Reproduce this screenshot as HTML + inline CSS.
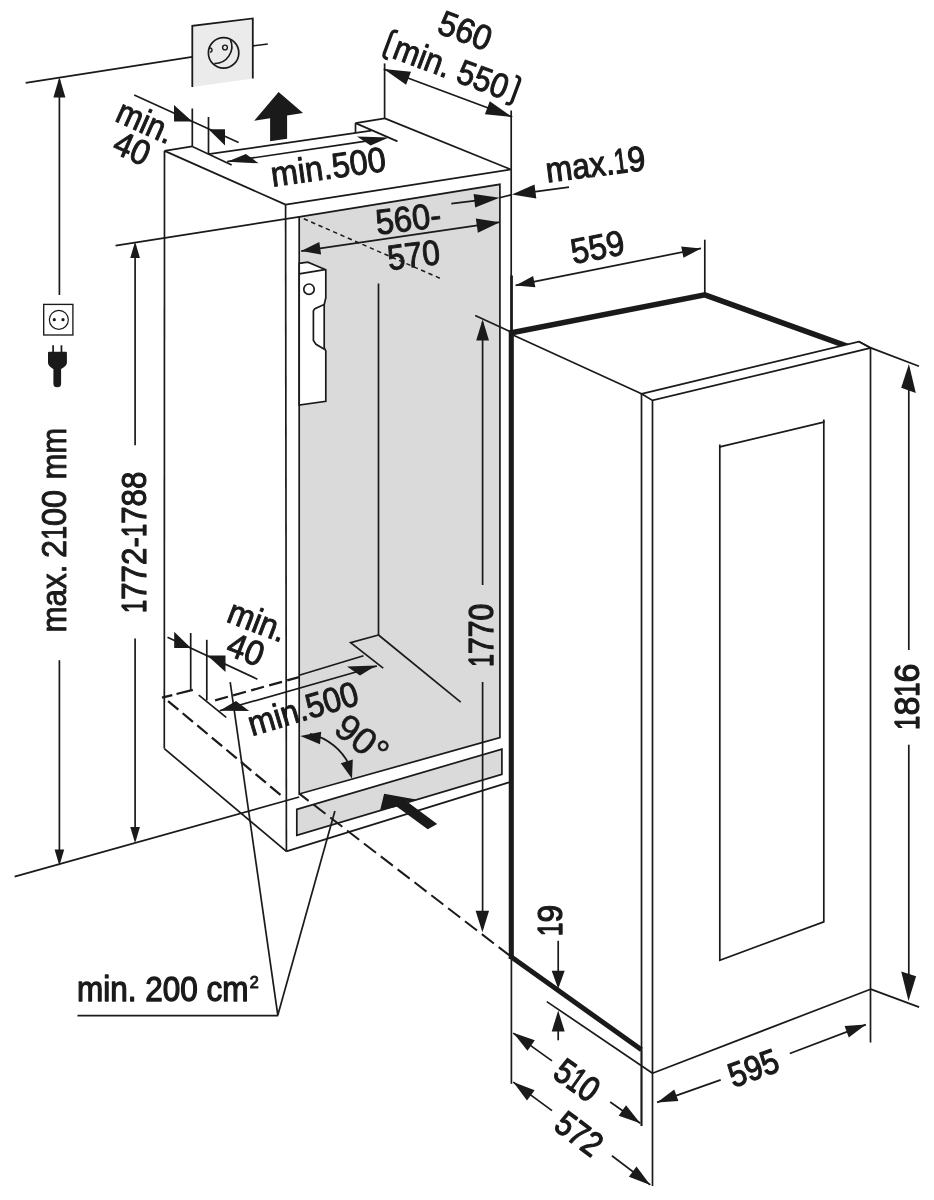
<!DOCTYPE html>
<html><head><meta charset="utf-8"><title>Installation dimensions</title>
<style>
html,body{margin:0;padding:0;background:#fff;}
body{width:934px;height:1200px;overflow:hidden;font-family:"Liberation Sans",sans-serif;}
svg{display:block;will-change:transform;opacity:0.999;}
svg text{font-family:"Liberation Sans",sans-serif;}
</style></head>
<body>
<svg width="934" height="1200" viewBox="0 0 934 1200" stroke="#1a1a1a" fill="none" stroke-linecap="butt">
<rect x="0" y="0" width="934" height="1200" fill="#ffffff" stroke="none"/>
<polygon points="299.2,216.8 499.9,184.3 499.9,737.6 299.2,794.0" fill="#dadada" stroke-width="1.7" />
<polygon points="296.8,809.4 501.9,749.1 501.9,774.4 296.8,835.4" fill="#dadada" stroke-width="1.7" />
<polygon points="192.3,25.8 252.8,18.4 252.8,78.5 192.3,87.1" fill="#ebebeb" stroke="none" />
<polyline points="192.3,87.1 192.3,25.8 252.8,18.4 252.8,78.5" fill="none" stroke-width="1.8" />
<line x1="164.5" y1="150.9" x2="285.6" y2="204.6" stroke-width="1.7" />
<line x1="285.6" y1="204.6" x2="510.8" y2="169.5" stroke-width="1.7" />
<line x1="510.8" y1="169.5" x2="384.8" y2="118.4" stroke-width="1.7" />
<line x1="164.5" y1="150.9" x2="192.3" y2="146.4" stroke-width="1.7" />
<line x1="192.3" y1="146.4" x2="231.7" y2="165.0" stroke-width="1.7" />
<line x1="208.5" y1="154.2" x2="371.4" y2="130.6" stroke-width="1.7" />
<line x1="355.5" y1="133.0" x2="355.5" y2="123.1" stroke-width="1.7" />
<line x1="355.5" y1="123.1" x2="384.8" y2="118.4" stroke-width="1.7" />
<line x1="355.5" y1="123.1" x2="397.5" y2="141.4" stroke-width="1.7" />
<line x1="164.5" y1="150.9" x2="164.3" y2="748.6" stroke-width="1.7" />
<line x1="285.6" y1="204.6" x2="286.4" y2="851.4" stroke-width="1.7" />
<line x1="164.3" y1="748.6" x2="286.4" y2="851.4" stroke-width="1.7" />
<line x1="286.4" y1="851.4" x2="509.0" y2="782.4" stroke-width="1.7" />
<line x1="511.2" y1="110.5" x2="511.2" y2="331.5" stroke-width="1.7" />
<line x1="511.6" y1="275.5" x2="511.6" y2="331.5" stroke-width="2.6" />
<line x1="14.6" y1="876.6" x2="299.2" y2="797.0" stroke-width="1.7" />
<polyline points="511.3,959.0 511.3,330.4" fill="none" stroke-width="5.1" />
<polyline points="509.1,333.2 704.9,294.8 849.0,346.9" fill="none" stroke-width="5.6" stroke-linejoin="miter"/>
<line x1="510.0" y1="956.0" x2="641.5" y2="1049.8" stroke-width="5.0" />
<line x1="499.6" y1="197.8" x2="511.9" y2="194.6" stroke-width="1.7" />
<line x1="511.4" y1="957.0" x2="511.4" y2="1083.8" stroke-width="1.7" />
<line x1="513.5" y1="335.3" x2="641.5" y2="393.8" stroke-width="1.7" />
<polygon points="641.5,393.8 858.9,341.6 870.8,347.9 652.5,400.4" fill="#ffffff" stroke-width="1.7" />
<line x1="641.5" y1="393.8" x2="641.5" y2="1126.0" stroke-width="1.7" />
<line x1="652.5" y1="400.4" x2="652.5" y2="1186.0" stroke-width="1.7" />
<line x1="870.5" y1="348.2" x2="870.5" y2="1042.5" stroke-width="1.7" />
<line x1="652.5" y1="1073.2" x2="870.5" y2="989.2" stroke-width="1.7" />
<line x1="546.8" y1="1001.6" x2="652.5" y2="1073.2" stroke-width="1.7" />
<polygon points="719.8,446.8 823.8,422.1 823.8,921.8 719.8,960.2" fill="none" stroke-width="1.7" />
<line x1="823.8" y1="419.5" x2="823.8" y2="423.0" stroke-width="1.7" />
<line x1="719.8" y1="444.5" x2="719.8" y2="448.0" stroke-width="1.7" />
<line x1="378.5" y1="283.5" x2="378.5" y2="635.0" stroke-width="1.7" />
<polyline points="378.5,635.0 350.6,642.6 383.2,668.2" fill="none" stroke-width="1.7" />
<line x1="378.5" y1="635.0" x2="460.7" y2="702.2" stroke-width="1.7" />
<line x1="299.2" y1="675.2" x2="363.5" y2="655.7" stroke-width="1.7" />
<polygon points="299.2,263.3 307.8,262.2 325.8,269.7 325.8,297.8 324.2,304.5 324.2,347.6 325.0,349.5 325.8,351.0 325.8,401.3 299.2,405.0" fill="#ffffff" stroke-width="1.7" />
<polyline points="324.2,304.5 314.9,308.6 313.4,310.8 313.4,340.5 316.0,344.3 324.4,349.2" fill="none" stroke-width="1.7" />
<line x1="299.2" y1="273.8" x2="325.0" y2="269.7" stroke-width="1.7" />
<circle cx="309" cy="289.2" r="5.2" fill="#fff" stroke-width="1.7"/>
<line x1="162.0" y1="697.7" x2="172.3" y2="695.1" stroke-width="2.3" />
<line x1="176.5" y1="694.0" x2="192.8" y2="689.9" stroke-width="2.3" />
<line x1="164.6" y1="698.2" x2="281.5" y2="795.7" stroke-width="2.25" stroke-dasharray="13.4 5.6" stroke-dashoffset="14.5"/>
<line x1="215.1" y1="700.3" x2="299.0" y2="677.1" stroke-width="2.25" stroke-dasharray="13.3 5.4"/>
<line x1="299.2" y1="793.6" x2="510.2" y2="956.0" stroke-width="2.0" stroke-dasharray="15.2 6.05" stroke-dashoffset="3.3"/>
<line x1="303.8" y1="218.8" x2="439.8" y2="278.2" stroke-width="1.5" stroke-dasharray="4.4 3.6"/>
<line x1="25.7" y1="82.9" x2="192.3" y2="56.8" stroke-width="1.7" />
<line x1="252.8" y1="45.9" x2="267.8" y2="44.0" stroke-width="1.7" />
<line x1="59.4" y1="80.0" x2="59.4" y2="295.0" stroke-width="1.7" />
<line x1="59.4" y1="660.2" x2="59.4" y2="860.0" stroke-width="1.7" />
<polygon points="59.4,77.0 65.4,97.6 53.4,97.6" fill="#1a1a1a" stroke="none" />
<polygon points="59.4,865.7 54.6,849.4 64.2,849.4" fill="#1a1a1a" stroke="none" />
<line x1="115.6" y1="245.6" x2="299.2" y2="216.8" stroke-width="1.7" />
<line x1="135.1" y1="245.0" x2="135.1" y2="445.2" stroke-width="1.7" />
<line x1="135.1" y1="638.4" x2="135.1" y2="840.0" stroke-width="1.7" />
<polygon points="135.1,241.4 139.9,258.0 130.3,258.0" fill="#1a1a1a" stroke="none" />
<polygon points="135.1,843.2 130.3,827.0 139.9,827.0" fill="#1a1a1a" stroke="none" />
<line x1="384.6" y1="63.4" x2="384.6" y2="118.9" stroke-width="1.7" />
<line x1="383.7" y1="69.0" x2="512.2" y2="117.0" stroke-width="1.7" />
<polygon points="383.7,69.0 411.0,71.7 406.1,84.8" fill="#1a1a1a" stroke="none" />
<polygon points="512.2,117.0 484.9,114.3 489.8,101.2" fill="#1a1a1a" stroke="none" />
<line x1="134.2" y1="95.1" x2="238.6" y2="142.6" stroke-width="1.7" />
<line x1="192.3" y1="108.5" x2="192.3" y2="146.4" stroke-width="1.7" />
<line x1="208.5" y1="117.0" x2="208.5" y2="154.2" stroke-width="1.7" />
<polygon points="174.0,105.0 174.0,121.5 192.3,121.5" fill="#1a1a1a" stroke="none" />
<polygon points="208.5,129.3 225.0,129.3 225.0,145.6" fill="#1a1a1a" stroke="none" />
<line x1="227.2" y1="161.7" x2="366.0" y2="141.2" stroke-width="1.7" />
<polygon points="227.2,161.7 245.9,154.0 258.7,163.3" fill="#1a1a1a" stroke="none" />
<polygon points="388.8,137.5 357.0,136.6 370.6,145.4" fill="#1a1a1a" stroke="none" />
<polygon points="278.6,92.0 303.0,113.1 287.1,115.6 287.1,138.7 270.1,141.3 270.1,118.3 254.2,120.8" fill="#1a1a1a" stroke="none" />
<line x1="451.3" y1="203.7" x2="480.0" y2="200.2" stroke-width="1.7" />
<polygon points="499.6,197.8 475.2,207.6 473.6,194.1" fill="#1a1a1a" stroke="none" />
<line x1="530.0" y1="192.3" x2="569.0" y2="187.2" stroke-width="1.7" />
<polygon points="511.9,194.6 534.5,184.6 536.3,198.5" fill="#1a1a1a" stroke="none" />
<line x1="301.2" y1="251.1" x2="499.8" y2="222.2" stroke-width="1.7" />
<polygon points="301.2,251.1 319.3,242.1 321.1,254.6" fill="#1a1a1a" stroke="none" />
<polygon points="499.8,222.2 477.9,232.7 475.8,218.4" fill="#1a1a1a" stroke="none" />
<line x1="704.8" y1="239.7" x2="704.8" y2="293.0" stroke-width="1.7" />
<line x1="515.6" y1="285.4" x2="701.0" y2="248.4" stroke-width="1.7" />
<polygon points="515.6,285.4 533.1,276.0 535.4,287.3" fill="#1a1a1a" stroke="none" />
<polygon points="701.0,248.4 683.5,257.8 681.2,246.5" fill="#1a1a1a" stroke="none" />
<polyline points="858.9,341.6 870.8,347.9 919.0,366.2" fill="none" stroke-width="1.7" />
<line x1="870.6" y1="989.1" x2="919.1" y2="1007.1" stroke-width="1.7" />
<line x1="908.8" y1="385.0" x2="908.8" y2="650.0" stroke-width="1.7" />
<line x1="908.8" y1="744.7" x2="908.8" y2="980.0" stroke-width="1.7" />
<polygon points="908.9,363.9 901.2,387.7 915.8,393.0" fill="#1a1a1a" stroke="none" />
<polygon points="908.5,1000.9 901.2,971.4 916.1,976.2" fill="#1a1a1a" stroke="none" />
<line x1="475.2" y1="315.4" x2="509.4" y2="331.3" stroke-width="1.7" />
<line x1="482.6" y1="322.0" x2="482.6" y2="585.0" stroke-width="1.7" />
<line x1="482.6" y1="682.0" x2="482.6" y2="928.0" stroke-width="1.7" />
<polygon points="482.6,319.4 489.0,340.6 476.2,340.6" fill="#1a1a1a" stroke="none" />
<polygon points="482.4,932.2 475.6,910.8 489.1,910.8" fill="#1a1a1a" stroke="none" />
<line x1="167.5" y1="637.2" x2="257.4" y2="679.2" stroke-width="1.7" />
<line x1="190.7" y1="633.0" x2="190.7" y2="689.6" stroke-width="1.7" />
<line x1="206.8" y1="639.8" x2="206.8" y2="700.4" stroke-width="1.7" />
<polygon points="174.2,631.7 174.2,647.9 190.9,647.9" fill="#1a1a1a" stroke="none" />
<polygon points="207.4,655.5 225.5,655.5 225.5,672.1" fill="#1a1a1a" stroke="none" />
<line x1="198.8" y1="695.1" x2="226.2" y2="717.4" stroke-width="1.7" />
<line x1="219.6" y1="710.8" x2="377.0" y2="666.0" stroke-width="1.7" />
<polygon points="219.6,710.8 236.0,701.0 249.2,710.9" fill="#1a1a1a" stroke="none" />
<polygon points="376.2,665.4 347.0,666.5 360.0,675.4" fill="#1a1a1a" stroke="none" />
<path d="M 310 733.8 A 58.2 58.2 0 0 1 350.0 766.5" fill="none" stroke-width="1.7"/>
<polygon points="300.3,736.1 321.2,731.8 320.0,744.2" fill="#1a1a1a" stroke="none" />
<polygon points="352.0,778.8 340.8,763.2 352.8,759.6" fill="#1a1a1a" stroke="none" />
<polygon points="384.1,793.7 417.5,799.7 407.2,801.7 437.2,824.1 427.7,829.2 396.9,806.8 380.2,809.9" fill="#1a1a1a" stroke="none" />
<line x1="230.2" y1="682.1" x2="277.8" y2="1015.2" stroke-width="1.7" />
<line x1="334.9" y1="810.9" x2="277.8" y2="1015.2" stroke-width="1.7" />
<line x1="77.5" y1="1015.6" x2="278.2" y2="1015.6" stroke-width="1.7" />
<line x1="558.2" y1="940.8" x2="558.2" y2="972.0" stroke-width="1.7" />
<polygon points="558.2,988.8 551.7,970.8 564.7,970.8" fill="#1a1a1a" stroke="none" />
<line x1="558.2" y1="1030.0" x2="558.2" y2="1040.3" stroke-width="1.7" />
<polygon points="558.2,1010.5 564.7,1031.5 551.7,1031.5" fill="#1a1a1a" stroke="none" />
<line x1="641.5" y1="1049.8" x2="641.5" y2="1126.0" stroke-width="1.7" />
<line x1="513.2" y1="1033.1" x2="552.0" y2="1060.9" stroke-width="1.7" />
<line x1="610.2" y1="1102.0" x2="640.3" y2="1123.2" stroke-width="1.7" />
<polygon points="513.2,1032.8 534.8,1040.3 527.5,1050.7" fill="#1a1a1a" stroke="none" />
<polygon points="640.3,1123.2 618.7,1115.7 626.0,1105.3" fill="#1a1a1a" stroke="none" />
<line x1="513.2" y1="1082.1" x2="552.0" y2="1110.6" stroke-width="1.7" />
<line x1="611.9" y1="1155.8" x2="650.3" y2="1184.9" stroke-width="1.7" />
<polygon points="513.2,1082.1 534.6,1090.2 527.0,1100.4" fill="#1a1a1a" stroke="none" />
<polygon points="650.3,1184.9 628.9,1176.8 636.5,1166.6" fill="#1a1a1a" stroke="none" />
<line x1="657.1" y1="1102.4" x2="720.7" y2="1079.9" stroke-width="1.7" />
<line x1="789.8" y1="1053.5" x2="865.9" y2="1024.6" stroke-width="1.7" />
<polygon points="657.1,1102.4 674.2,1089.6 678.4,1100.9" fill="#1a1a1a" stroke="none" />
<polygon points="865.9,1024.6 848.8,1037.4 844.6,1026.1" fill="#1a1a1a" stroke="none" />
<circle cx="223.6" cy="52.9" r="15.2" fill="none" stroke-width="1.7"/>
<path d="M 230.3 39.4 A 17.1 17.1 0 0 1 214.3 63.5" fill="none" stroke-width="1.7"/>
<circle cx="225.0" cy="47.5" r="2.4" fill="none" stroke-width="1.4"/>
<path d="M 209.6 47.9 A 2 2 0 0 1 210.0 52.3" fill="none" stroke-width="1.4"/>
<rect x="43.7" y="304.4" width="29.2" height="30.6" fill="#fff" stroke-width="1.35"/>
<circle cx="58.85" cy="319.8" r="9.5" fill="none" stroke-width="1.2"/>
<circle cx="54.3" cy="319.7" r="1.6" fill="#1a1a1a" stroke="none"/>
<circle cx="63.0" cy="319.7" r="1.6" fill="#1a1a1a" stroke="none"/>
<path d="M 52.25 345.2 h 1.7 v 6.6 h 6.65 v -6.6 h 1.7 v 6.6 h 3.6 q 1 0 1 1 v 9.6 c 0 3.6 -3.9 5.1 -5.8 6.6 v 14.5 a 3.85 3.85 0 0 1 -7.7 0 v -14.5 c -1.9 -1.5 -5.4 -3 -5.4 -6.6 v -9.6 q 0 -1 1 -1 h 3.25 z" fill="#1a1a1a" stroke="none"/>
<g transform="translate(465.40,30.50) rotate(20.50)" font-size="34.82" stroke="#1a1a1a" stroke-width="0.95" stroke-linejoin="round" fill="#1a1a1a">
<text transform="translate(-27.07,12.14) scale(0.9310,1)" vector-effect="non-scaling-stroke">560</text>
</g>
<g transform="translate(451.80,67.40) rotate(20.50)" font-size="34.54" stroke="#1a1a1a" stroke-width="0.95" stroke-linejoin="round" fill="#1a1a1a">
<text transform="translate(-60.34,12.04) scale(0.9042,1)" vector-effect="non-scaling-stroke">min. 550</text>
</g>
<g transform="translate(451.8,67.4) rotate(20.5)" fill="none" stroke-width="3.3"><path d="M -62.8 -14.3 C -66 -14.6 -68.2 -14 -68.2 -10.5 L -68.2 10.5 C -68.2 14 -66 14.8 -62.8 14.5"/><path d="M 62.8 -14.3 C 66 -14.6 68.2 -14 68.2 -10.5 L 68.2 10.5 C 68.2 14 66 14.8 62.8 14.5"/></g>
<g transform="translate(145.30,121.30) rotate(24.00)" font-size="34.82" stroke="#1a1a1a" stroke-width="0.95" stroke-linejoin="round" fill="#1a1a1a">
<text transform="translate(-29.08,12.14) scale(0.8962,1)" vector-effect="non-scaling-stroke">min.</text>
</g>
<g transform="translate(132.00,148.00) rotate(24.00)" font-size="34.82" stroke="#1a1a1a" stroke-width="0.95" stroke-linejoin="round" fill="#1a1a1a">
<text transform="translate(-17.74,12.14) scale(0.9295,1)" vector-effect="non-scaling-stroke">40</text>
</g>
<g transform="translate(328.60,166.60) rotate(-7.90)" font-size="35.11" stroke="#1a1a1a" stroke-width="0.95" stroke-linejoin="round" fill="#1a1a1a">
<text transform="translate(-58.27,12.23) scale(0.9257,1)" vector-effect="non-scaling-stroke">min.500</text>
</g>
<g transform="translate(595.60,164.00) rotate(-7.20)" font-size="35.04" stroke="#1a1a1a" stroke-width="1.1" stroke-linejoin="round" fill="#1a1a1a">
<text transform="translate(-50.30,12.21) scale(0.9073,1)" vector-effect="non-scaling-stroke">max.</text>
<text transform="translate(18.62,12.21) scale(0.6896,1)" vector-effect="non-scaling-stroke">1</text>
<text transform="translate(32.05,12.21) scale(0.9073,1)" vector-effect="non-scaling-stroke">9</text>
</g>
<g transform="translate(408.20,218.50) rotate(-7.10)" font-size="35.39" stroke="#1a1a1a" stroke-width="0.95" stroke-linejoin="round" fill="#1a1a1a">
<text transform="translate(-32.69,12.33) scale(0.9254,1)" vector-effect="non-scaling-stroke">560-</text>
</g>
<g transform="translate(413.60,254.80) rotate(-7.10)" font-size="35.25" stroke="#1a1a1a" stroke-width="0.95" stroke-linejoin="round" fill="#1a1a1a">
<text transform="translate(-26.39,12.28) scale(0.8966,1)" vector-effect="non-scaling-stroke">570</text>
</g>
<g transform="translate(597.30,247.00) rotate(-10.80)" font-size="35.25" stroke="#1a1a1a" stroke-width="0.95" stroke-linejoin="round" fill="#1a1a1a">
<text transform="translate(-26.87,12.28) scale(0.9184,1)" vector-effect="non-scaling-stroke">559</text>
</g>
<g transform="translate(906.90,696.50) rotate(-90.00)" font-size="35.18" stroke="#1a1a1a" stroke-width="1.2" stroke-linejoin="round" fill="#1a1a1a">
<text transform="translate(-33.46,12.26) scale(0.7336,1)" vector-effect="non-scaling-stroke">1</text>
<text transform="translate(-19.11,12.26) scale(0.9653,1)" vector-effect="non-scaling-stroke">8</text>
<text transform="translate(-0.23,12.26) scale(0.7336,1)" vector-effect="non-scaling-stroke">1</text>
<text transform="translate(14.11,12.26) scale(0.9653,1)" vector-effect="non-scaling-stroke">6</text>
</g>
<g transform="translate(133.60,542.10) rotate(-90.00)" font-size="35.89" stroke="#1a1a1a" stroke-width="1.1" stroke-linejoin="round" fill="#1a1a1a">
<text transform="translate(-70.96,12.51) scale(0.6636,1)" vector-effect="non-scaling-stroke">1</text>
<text transform="translate(-57.72,12.51) scale(0.8732,1)" vector-effect="non-scaling-stroke">772-</text>
<text transform="translate(5.02,12.51) scale(0.6636,1)" vector-effect="non-scaling-stroke">1</text>
<text transform="translate(18.26,12.51) scale(0.8732,1)" vector-effect="non-scaling-stroke">788</text>
</g>
<g transform="translate(53.70,599.00) rotate(-90.00)" font-size="35.60" stroke="#1a1a1a" stroke-width="0.9" stroke-linejoin="round" fill="#1a1a1a">
<text transform="translate(-33.62,12.41) scale(0.8818,1)" vector-effect="non-scaling-stroke">max.</text>
</g>
<g transform="translate(53.70,523.70) rotate(-90.00)" font-size="35.60" stroke="#1a1a1a" stroke-width="0.9" stroke-linejoin="round" fill="#1a1a1a">
<text transform="translate(-34.18,12.41) scale(0.9131,1)" vector-effect="non-scaling-stroke">2</text>
<text transform="translate(-16.10,12.41) scale(0.6939,1)" vector-effect="non-scaling-stroke">1</text>
<text transform="translate(-2.36,12.41) scale(0.9131,1)" vector-effect="non-scaling-stroke">00</text>
</g>
<g transform="translate(53.70,453.65) rotate(-90.00)" font-size="35.60" stroke="#1a1a1a" stroke-width="0.9" stroke-linejoin="round" fill="#1a1a1a">
<text transform="translate(-25.95,12.41) scale(0.8741,1)" vector-effect="non-scaling-stroke">mm</text>
</g>
<g transform="translate(480.80,635.00) rotate(-90.00)" font-size="34.68" stroke="#1a1a1a" stroke-width="1.25" stroke-linejoin="round" fill="#1a1a1a">
<text transform="translate(-31.82,12.09) scale(0.6608,1)" vector-effect="non-scaling-stroke">1</text>
<text transform="translate(-19.08,12.09) scale(0.8695,1)" vector-effect="non-scaling-stroke">770</text>
</g>
<g transform="translate(257.20,620.50) rotate(21.00)" font-size="34.82" stroke="#1a1a1a" stroke-width="0.95" stroke-linejoin="round" fill="#1a1a1a">
<text transform="translate(-29.62,12.14) scale(0.9127,1)" vector-effect="non-scaling-stroke">min.</text>
</g>
<g transform="translate(245.60,649.20) rotate(21.50)" font-size="34.82" stroke="#1a1a1a" stroke-width="0.95" stroke-linejoin="round" fill="#1a1a1a">
<text transform="translate(-17.89,12.14) scale(0.9377,1)" vector-effect="non-scaling-stroke">40</text>
</g>
<g transform="translate(303.40,708.30) rotate(-16.50)" font-size="34.82" stroke="#1a1a1a" stroke-width="0.95" stroke-linejoin="round" fill="#1a1a1a">
<text transform="translate(-57.13,12.14) scale(0.9150,1)" vector-effect="non-scaling-stroke">min.500</text>
</g>
<g transform="translate(361.90,738.90) rotate(38.30)" font-size="37.02" stroke="#1a1a1a" stroke-width="0.5" stroke-linejoin="round" fill="#1a1a1a">
<text transform="translate(-28.02,12.90) scale(1.0105,1)" vector-effect="non-scaling-stroke">90°</text>
</g>
<g transform="translate(549.90,920.30) rotate(-90.00)" font-size="35.46" stroke="#1a1a1a" stroke-width="1.2" stroke-linejoin="round" fill="#1a1a1a">
<text transform="translate(-15.80,12.36) scale(0.6851,1)" vector-effect="non-scaling-stroke">1</text>
<text transform="translate(-2.29,12.36) scale(0.9014,1)" vector-effect="non-scaling-stroke">9</text>
</g>
<g transform="translate(577.10,1080.00) rotate(35.50)" font-size="35.18" stroke="#1a1a1a" stroke-width="1.2" stroke-linejoin="round" fill="#1a1a1a">
<text transform="translate(-23.10,12.26) scale(0.8548,1)" vector-effect="non-scaling-stroke">5</text>
<text transform="translate(-6.38,12.26) scale(0.6497,1)" vector-effect="non-scaling-stroke">1</text>
<text transform="translate(6.32,12.26) scale(0.8548,1)" vector-effect="non-scaling-stroke">0</text>
</g>
<g transform="translate(579.00,1133.50) rotate(36.90)" font-size="34.61" stroke="#1a1a1a" stroke-width="1.2" stroke-linejoin="round" fill="#1a1a1a">
<text transform="translate(-24.48,12.06) scale(0.8533,1)" vector-effect="non-scaling-stroke">572</text>
</g>
<g transform="translate(753.20,1067.90) rotate(-20.40)" font-size="34.47" stroke="#1a1a1a" stroke-width="1.1" stroke-linejoin="round" fill="#1a1a1a">
<text transform="translate(-25.58,12.01) scale(0.8909,1)" vector-effect="non-scaling-stroke">595</text>
</g>
<g transform="translate(162.85,988.60) rotate(0.00)" font-size="34.26" stroke="#1a1a1a" stroke-width="1.25" stroke-linejoin="round" fill="#1a1a1a">
<text transform="translate(-85.80,11.94) scale(0.9195,1)" vector-effect="non-scaling-stroke">min. 200 cm</text>
</g>
<g transform="translate(254.30,982.40) rotate(0.00)" font-size="16.88" stroke="#1a1a1a" stroke-width="1.0" stroke-linejoin="round" fill="#1a1a1a">
<text transform="translate(-4.51,5.88) scale(0.9614,1)" vector-effect="non-scaling-stroke">2</text>
</g>
</svg>
</body></html>
